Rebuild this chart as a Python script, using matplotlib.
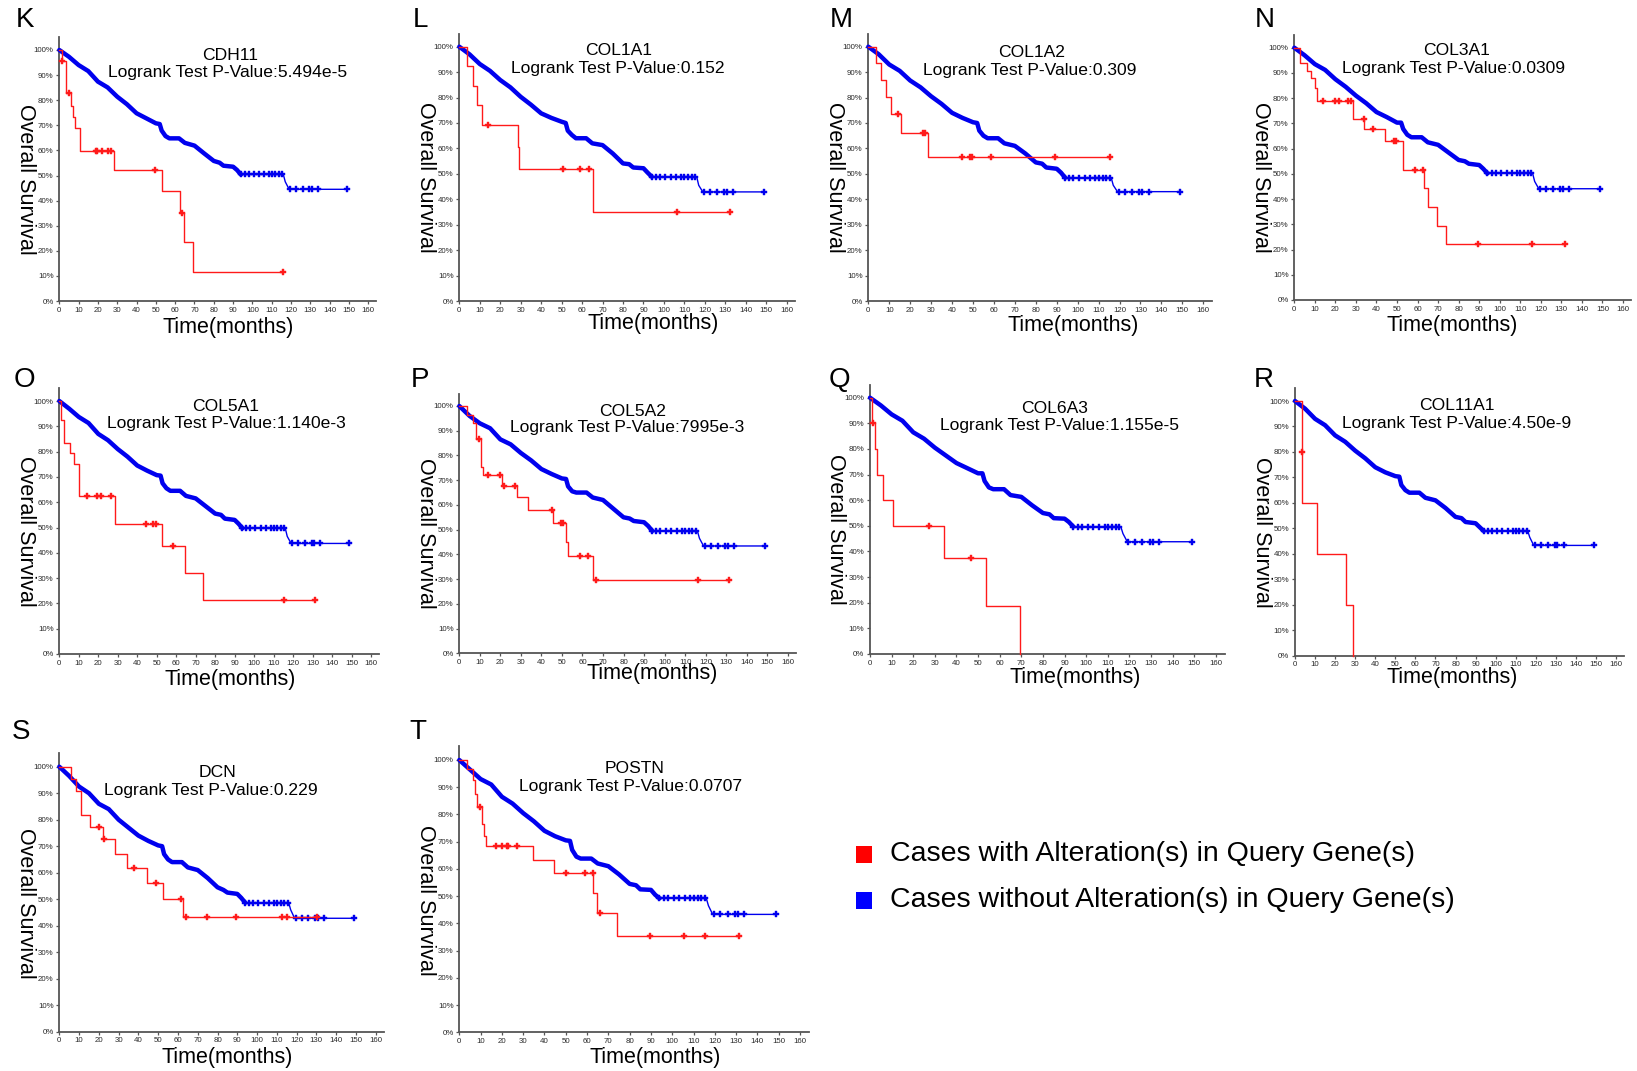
import numpy as np
import matplotlib
matplotlib.use("Agg")
import matplotlib.pyplot as plt

plt.rcParams['font.family'] = ['Liberation Sans', 'DejaVu Sans']

W, H = 1637, 1071

# ---------------- data ----------------
panels = ['K', 'L', 'M', 'N', 'O', 'P', 'Q', 'R', 'S', 'T']
genes = ['CDH11', 'COL1A1', 'COL1A2', 'COL3A1', 'COL5A1',
         'COL5A2', 'COL6A3', 'COL11A1', 'DCN', 'POSTN']
pvalues = ['5.494e-5', '0.152', '0.309', '0.0309', '1.140e-3',
           '7995e-3', '1.155e-5', '4.50e-9', '0.229', '0.0707']
x_ticks = [0, 10, 20, 30, 40, 50, 60, 70, 80, 90, 100, 110, 120, 130, 140, 150, 160]
y_ticks = [0, 10, 20, 30, 40, 50, 60, 70, 80, 90, 100]
legend_labels = ['Cases with Alteration(s) in Query Gene(s)',
                 'Cases without Alteration(s) in Query Gene(s)']

# unaltered group (blue): times (months) where survival was read
blue_t = [0, 5, 10, 15, 20, 25, 30, 35, 40, 45, 50, 52, 53, 55, 57, 62, 65,
          70, 75, 80, 83, 85, 90, 92, 94, 116, 117, 119, 149]
blue_K = [100, 97.3, 94, 91.6, 87.4, 85.1, 81.4, 78.4, 74.8, 72.8, 70.8, 70.5, 67.9, 65.7, 64.8,
          64.8, 63, 61.9, 58.8, 55.8, 55.1, 53.9, 53.5, 52.2, 50.4, 50.4, 47.5, 44.5, 44.5]
blue_L = [100, 97, 93.2, 90.5, 86.9, 84, 80.3, 77.2, 73.8, 72, 70.5, 70, 67, 65.3, 64,
          64, 62, 61.3, 58, 54.1, 53.8, 52.5, 52.2, 50.5, 48.9, 48.9, 45.5, 42.9, 42.9]
blue_M = [100, 97, 93, 90.5, 86.7, 84, 80.5, 77.5, 74, 72, 70.3, 70, 67, 65, 64,
          64, 62, 61, 58, 54.5, 54, 52.5, 52, 50.5, 48.5, 48.5, 45.5, 43, 43]
blue_N = [100, 97, 93.5, 91.2, 87.5, 84.5, 81, 78, 74.5, 72.5, 70.3, 70.3, 67.8, 65.5, 64.5,
          64.5, 62.5, 61.5, 58.5, 55.5, 55, 54, 53.5, 52, 50.2, 50.2, 47, 44.1, 44.1]
blue_O = [100, 97, 93.7, 91.3, 87, 84.5, 81, 78, 74.5, 72.5, 70.7, 70.5, 67.5, 65.5, 64.5,
          64.5, 62.5, 61.5, 58.5, 55.5, 55, 53.5, 53, 51.5, 49.7, 49.7, 46.5, 43.7, 43.7]
blue_P = [100, 96, 93, 91, 86.5, 84.5, 81, 78, 74.5, 72.5, 70.7, 70.5, 67.5, 65.5, 65,
          65, 63, 62, 58.5, 55, 54.5, 53.5, 53, 51.5, 49.5, 49.5, 46.5, 43.4, 43.4]
blue_Q = [100, 97, 93.5, 91, 86.5, 84, 80.5, 77.5, 74.5, 72.5, 70.5, 70.5, 67.5, 65, 64.3,
          64.3, 62, 61.3, 58, 55, 54.5, 53, 52.8, 51.5, 49.7, 49.7, 47, 43.8, 43.8]
blue_R = [100, 97, 93, 90.5, 86.5, 84, 80.5, 77.5, 74, 72, 70.5, 70.3, 67, 65, 64,
          64, 62, 61, 58, 54.5, 54, 52.5, 52, 50.5, 49, 49, 46.5, 43.3, 43.3]
blue_S = [100, 96.5, 92.5, 90, 86, 84, 80, 77, 74, 72, 70.3, 70, 67, 65, 64,
          64, 62, 61, 58, 54.5, 53.5, 52.5, 52, 50.5, 48.7, 48.7, 46, 42.8, 42.8]
blue_T = [100, 96.5, 93, 91, 86.5, 84, 80.5, 77.5, 74, 72, 70.5, 70.3, 67, 64.5, 63.8,
          63.8, 62, 61, 58, 54.5, 54, 52.5, 52.3, 50.5, 49.2, 49.2, 46.5, 43.3, 43.3]
blue_censor = [94, 96, 98, 100.7, 103.3, 106, 108.5, 110, 111.9, 113.6, 115.4,
               119.5, 122.5, 126, 129.5, 130.7, 133.9, 148.9]

# altered group (red): event times, survival after event, censor times
red_t_K = [0, 1.2, 3.3, 6.0, 6.9, 8.1, 10.9, 28.5, 53.0, 62.5, 64.8, 69.1, 115.7]
red_s_K = [100, 95.6, 82.7, 77.7, 73.4, 69.1, 59.8, 52.2, 43.7, 35.2, 23.4, 11.7, 11.7]
red_c_K = [1.5, 5.0, 19, 19.7, 21.9, 25.4, 26.6, 49.6, 63.4, 115.7]

red_t_L = [0, 3.6, 6.5, 8.8, 10.9, 28.8, 29.3, 65.5, 132.2]
red_s_L = [100, 92.4, 84.7, 76.9, 69.2, 60.7, 51.9, 34.9, 34.9]
red_c_L = [14.2, 50.5, 59, 63.2, 106.2, 132.2]

red_t_M = [0, 3.7, 5.9, 8.3, 10.7, 15.4, 28.5, 115.4]
red_s_M = [100, 93.4, 86.9, 80.1, 73.4, 65.9, 56.7, 56.7]
red_c_M = [14.3, 26, 27.2, 44.6, 48.6, 49.5, 58.6, 89.2, 115.4]

red_t_N = [0, 2.8, 6.0, 7.9, 10.0, 11.1, 28.7, 34.0, 44.1, 52.7, 63.2, 65.2, 69.7, 73.7, 131.6]
red_s_N = [100, 94.1, 90.9, 87.8, 83.9, 78.9, 71.7, 67.8, 63.1, 51.5, 44.3, 36.7, 29.3, 22, 22]
red_c_N = [14.1, 19.8, 21.9, 26.3, 27.6, 33.7, 38.4, 48.6, 49.4, 58.7, 62.7, 89.5, 115.9, 131.6]

red_t_O = [0, 0.9, 2.6, 5.5, 7.5, 10.3, 28.6, 52.6, 64.6, 74.0, 131.3]
red_s_O = [100, 92.6, 83.3, 79.3, 75.1, 62.6, 51.4, 42.7, 32.1, 21.3, 21.3]
red_c_O = [14, 19.5, 21.2, 26.5, 44.3, 48.3, 49.7, 58.2, 115.4, 131.3]

red_t_P = [0, 3.6, 6.5, 8.1, 10.4, 11.7, 20.6, 28.2, 33.6, 45.5, 51.8, 53.1, 64.9, 131.5]
red_s_P = [100, 96.4, 93.3, 86.5, 75.5, 72, 67.8, 63.1, 58, 52.8, 44.9, 39.5, 29.6, 29.6]
red_c_P = [9.6, 13.8, 19.8, 21.9, 27.1, 45, 49.4, 50.3, 58.8, 62.8, 66.4, 116.1, 131.5]

red_t_Q = [0, 0.8, 2.3, 3.4, 5.9, 10.8, 34.2, 53.5, 69.3]
red_s_Q = [100, 90, 80, 70, 60, 50, 37.5, 18.8, 0]
red_c_Q = [1.5, 27.3, 46.5]

red_t_R = [0, 3.3, 3.6, 10.8, 25.4, 28.7]
red_s_R = [100, 80, 60, 40, 20, 0]
red_c_R = [3.4]

red_t_S = [0, 5.9, 8.4, 10.8, 15.5, 21.9, 28.2, 34.4, 44.2, 52.6, 62.4, 130.5]
red_s_S = [100, 95.5, 90.9, 81.8, 77.3, 72.7, 67.2, 61.9, 56.3, 50.1, 43.1, 43.1]
red_c_S = [20.2, 22.8, 37.9, 48.7, 61.4, 63.9, 74.5, 89.2, 112.5, 115.3, 130.5]

red_t_T = [0, 3.4, 6.3, 7.3, 8.5, 10.8, 11.6, 12.5, 34.4, 44.4, 62.9, 64.9, 73.9, 131.3]
red_s_T = [100, 96.6, 92.8, 87.5, 82.8, 76.5, 72, 68.3, 63.4, 58.6, 51.2, 43.9, 35.2, 35.2]
red_c_T = [9.7, 17.2, 19.9, 22.2, 23, 27.2, 50.1, 59, 62.6, 66, 89.5, 105.5, 115.6, 131.3]

blue_series = dict(K=blue_K, L=blue_L, M=blue_M, N=blue_N, O=blue_O,
                   P=blue_P, Q=blue_Q, R=blue_R, S=blue_S, T=blue_T)
red_series = dict(K=(red_t_K, red_s_K, red_c_K), L=(red_t_L, red_s_L, red_c_L),
                  M=(red_t_M, red_s_M, red_c_M), N=(red_t_N, red_s_N, red_c_N),
                  O=(red_t_O, red_s_O, red_c_O), P=(red_t_P, red_s_P, red_c_P),
                  Q=(red_t_Q, red_s_Q, red_c_Q), R=(red_t_R, red_s_R, red_c_R),
                  S=(red_t_S, red_s_S, red_c_S), T=(red_t_T, red_s_T, red_c_T))

# ---------------- layout (pixels in the 1637x1071 canvas) ----------------
# x pixel of 0 months, x pixel of 160 months, y pixel of 0%, y pixel of 100%
axes_px = dict(K=(59.3, 368.3, 301, 50), L=(459.3, 786.7, 301, 46.7),
               M=(868.3, 1203.3, 301, 46.7), N=(1294.3, 1623, 300, 47.7),
               O=(59.3, 371, 654, 401), P=(459.3, 787.7, 653.3, 406),
               Q=(870, 1215.9, 654, 397.7), R=(1295, 1616, 655.7, 401),
               S=(59.3, 375.7, 1031.7, 766.7), T=(459.3, 800, 1032.3, 760))
letter_px = dict(K=(25, 20), L=(420, 20), M=(841, 20), N=(1265, 20),
                 O=(24, 380), P=(420, 380), Q=(839, 380), R=(1264, 380),
                 S=(21, 732), T=(418, 732))
title_px = dict(K=(230, 55, 228, 72), L=(619, 50, 618, 68),
                M=(1031.7, 52.3, 1030, 70.7), N=(1456.7, 50.7, 1453.3, 68.3),
                O=(226, 406.7, 226.3, 423.3), P=(632.7, 411, 627, 427.7),
                Q=(1055, 408.3, 1059, 426), R=(1456.7, 406, 1456.7, 423.3),
                S=(217.7, 772.3, 211, 790.7), T=(634.3, 768.3, 630.7, 786.7))
xlabel_px = dict(K=(228, 328), L=(653, 323), M=(1073, 325), N=(1452, 325),
                 O=(230, 680), P=(652, 674), Q=(1075, 677), R=(1452, 677),
                 S=(227, 1057), T=(655, 1058))
legend_px = dict(square_x=856, square_w=16.5, square_h=17, text_x=890,
                 rows=(854, 900))

RED = '#ff1a1a'
BLUE = '#0000ee'
GREY = '#555555'

fig = plt.figure(figsize=(W / 100, H / 100), dpi=100)
fig.patch.set_facecolor('white')


def fx(x):
    return x / W


def fy(y):
    return 1 - y / H


for p, gene, pv in zip(panels, genes, pvalues):
    x0, x160, y0, y100 = axes_px[p]
    ppm = (x160 - x0) / 160.0
    ppp = (y0 - y100) / 100.0
    right = x0 + 164 * ppm
    top = y0 - 105 * ppp
    ax = fig.add_axes([fx(x0), fy(y0), (right - x0) / W, (y0 - top) / H])
    ax.set_xlim(0, 164)
    ax.set_ylim(0, 105)
    for s in ['top', 'right']:
        ax.spines[s].set_visible(False)
    for s in ['left', 'bottom']:
        ax.spines[s].set_color(GREY)
        ax.spines[s].set_linewidth(1.3)
    ax.set_xticks(x_ticks)
    ax.set_xticklabels([str(v) for v in x_ticks])
    ax.set_yticks(y_ticks)
    ax.set_yticklabels([f'{v}%' for v in y_ticks])
    ax.tick_params(axis='both', labelsize=5.7, labelcolor='#2a2a2a', color=GREY,
                   length=2.5, width=0.9, pad=1.5, direction='out')
    ax.set_facecolor('none')

    # blue (unaltered)
    bt = np.array(blue_t, dtype=float)
    bs = np.array(blue_series[p], dtype=float)
    ax.plot(bt, bs, color=BLUE, lw=1.0, zorder=3, clip_on=False)
    dense = bt <= 94
    ax.plot(bt[dense], bs[dense], color=BLUE, lw=3.2, zorder=3,
            solid_capstyle='round', solid_joinstyle='round', clip_on=False)
    bc = np.array(blue_censor)
    ax.plot(bc, np.interp(bc, bt, bs), linestyle='none', marker='P', ms=3.8,
            color=BLUE, mec=BLUE, mew=0.3, zorder=4, clip_on=False)

    # red (altered)
    rt, rs, rc = red_series[p]
    rt = np.array(rt, dtype=float)
    rs = np.array(rs, dtype=float)
    ax.plot(rt, rs, drawstyle='steps-post', color=RED, lw=1.0, zorder=5, clip_on=False)
    rc = np.array(rc, dtype=float)
    idx = np.searchsorted(rt, rc, side='right') - 1
    ax.plot(rc, rs[idx], linestyle='none', marker='P', ms=3.8, color=RED,
            mec=RED, mew=0.3, zorder=6, clip_on=False)

    # texts
    lx, ly = letter_px[p]
    fig.text(fx(lx), fy(ly), p, fontsize=20, ha='center', va='center')
    t1x, t1y, t2x, t2y = title_px[p]
    fig.text(fx(t1x), fy(t1y), gene, fontsize=12.6, ha='center', va='center')
    fig.text(fx(t2x), fy(t2y), 'Logrank Test P-Value:' + pv, fontsize=12.6,
             ha='center', va='center')
    xlx, xly = xlabel_px[p]
    fig.text(fx(xlx), fy(xly), 'Time(months)', fontsize=15.5, ha='center', va='center')
    fig.text(fx(x0 - 34), fy((y0 + y100) / 2 + 4), 'Overall Survival', fontsize=15.5,
             rotation=-90, ha='center', va='center')

# legend
for label, col, yc in zip(legend_labels, ['#ff0000', '#0000ff'], legend_px['rows']):
    sw, sh = legend_px['square_w'], legend_px['square_h']
    fig.patches.append(plt.Rectangle((fx(legend_px['square_x']), fy(yc + sh / 2)),
                                     sw / W, sh / H, transform=fig.transFigure,
                                     facecolor=col, edgecolor='none', figure=fig))
    fig.text(fx(legend_px['text_x']), fy(yc), label, fontsize=20.5, ha='left', va='center')

fig.savefig('out.png', dpi=100, facecolor='white')
